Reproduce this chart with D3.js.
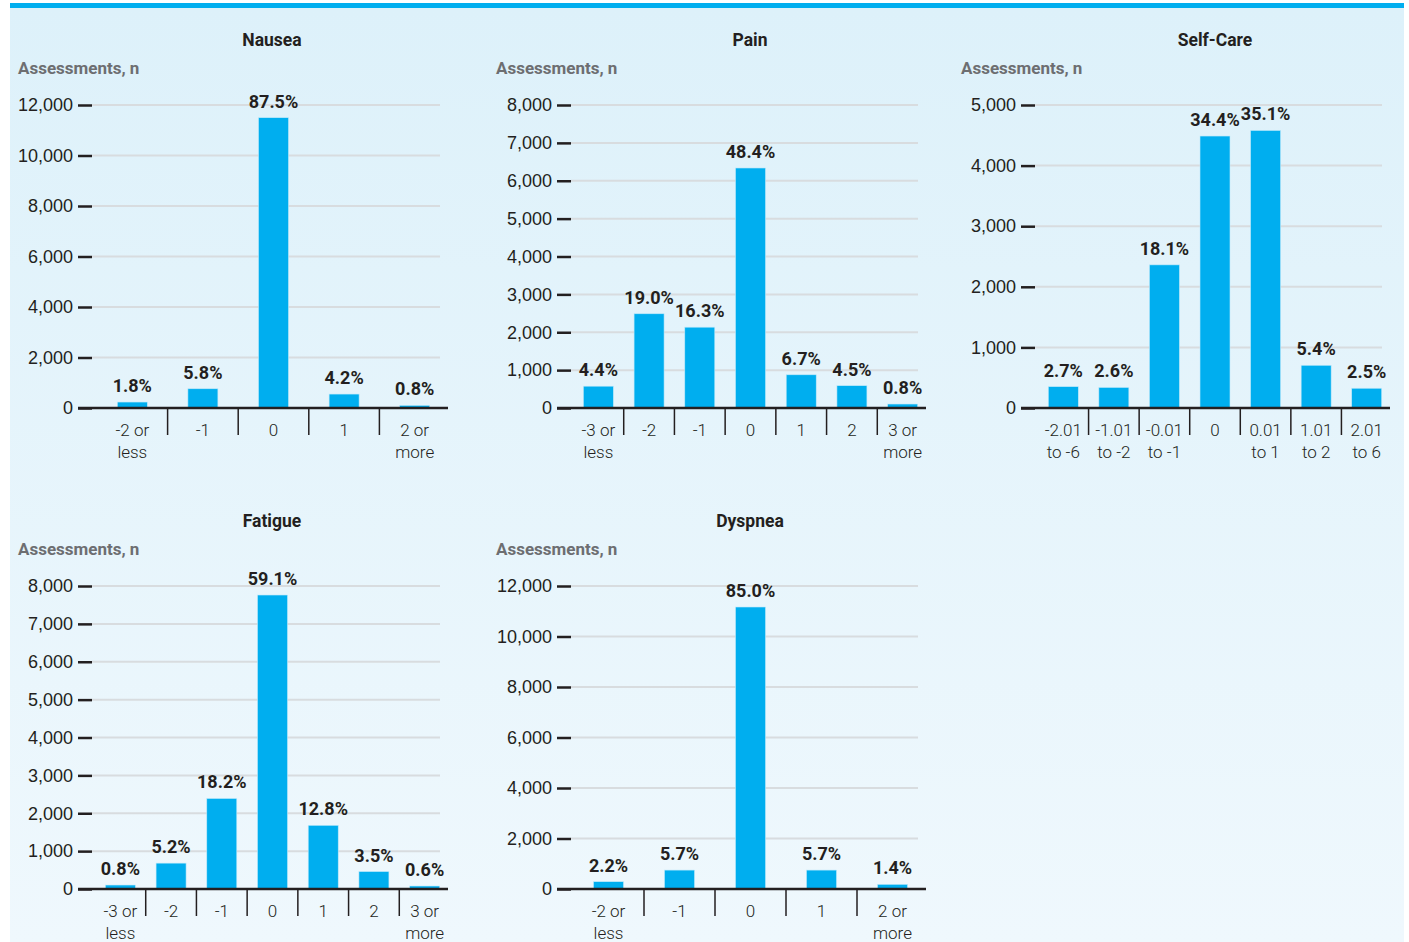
<!DOCTYPE html>
<html lang="en">
<head>
<meta charset="UTF-8">
<title>Symptom change assessments</title>
<script src="https://d3js.org/d3.v7.min.js"></script>
<style>
  body { margin: 0; background: #fff; }
  svg { display: block; font-family: Roboto, "Noto Sans", sans-serif; }
  .title { font-size: 17.5px; font-weight: 700; fill: #231f20; }
  .ylab { font-size: 17px; font-weight: 700; fill: #6d6e71; }
  .tick text { font-size: 18px; font-weight: 300; fill: #231f20; }
  .cat { font-size: 17px; font-weight: 300; fill: #231f20; }
  .pct { font-size: 18px; font-weight: 700; fill: #231f20; }
  .bar { fill: #00aeef; }
</style>
</head>
<body>
<svg id="chart" width="1409" height="942"></svg>
<script>
// categories
const nauseaCats = ["-2 or\nless", "-1", "0", "1", "2 or\nmore"];
const painCats = ["-3 or\nless", "-2", "-1", "0", "1", "2", "3 or\nmore"];
const selfCareCats = ["-2.01\nto -6", "-1.01\nto -2", "-0.01\nto -1", "0", "0.01\nto 1", "1.01\nto 2", "2.01\nto 6"];
const fatigueCats = ["-3 or\nless", "-2", "-1", "0", "1", "2", "3 or\nmore"];
const dyspneaCats = ["-2 or\nless", "-1", "0", "1", "2 or\nmore"];

// assessment counts
const nauseaValues = [236, 762, 11497, 552, 105];
const painValues = [576, 2488, 2134, 6337, 877, 589, 105];
const selfCareValues = [352, 339, 2362, 4488, 4580, 705, 326];
const fatigueValues = [105, 683, 2390, 7762, 1681, 460, 79];
const dyspneaValues = [289, 749, 11168, 749, 184];

// percentage labels
const nauseaPct = ["1.8%", "5.8%", "87.5%", "4.2%", "0.8%"];
const painPct = ["4.4%", "19.0%", "16.3%", "48.4%", "6.7%", "4.5%", "0.8%"];
const selfCarePct = ["2.7%", "2.6%", "18.1%", "34.4%", "35.1%", "5.4%", "2.5%"];
const fatiguePct = ["0.8%", "5.2%", "18.2%", "59.1%", "12.8%", "3.5%", "0.6%"];
const dyspneaPct = ["2.2%", "5.7%", "85.0%", "5.7%", "1.4%"];

// y axis maxima and tick steps
const yMax = { nausea: 12000, pain: 8000, selfCare: 5000, fatigue: 8000, dyspnea: 12000 };
const yStep = { nausea: 2000, pain: 1000, selfCare: 1000, fatigue: 1000, dyspnea: 2000 };

const svg = d3.select("#chart");

// background
const defs = svg.append("defs");
const grad = defs.append("linearGradient").attr("id", "bg")
    .attr("x1", 0).attr("y1", 0).attr("x2", 0).attr("y2", 1);
grad.append("stop").attr("offset", "0%").attr("stop-color", "#ddf1fa");
grad.append("stop").attr("offset", "100%").attr("stop-color", "#eff8fd");
svg.append("rect").attr("x", 10).attr("y", 8).attr("width", 1394).attr("height", 934).attr("fill", "url(#bg)");
svg.append("rect").attr("x", 10).attr("y", 3).attr("width", 1394).attr("height", 5).attr("fill", "#00aeef");

const panels = [
    { title: "Nausea", cats: nauseaCats, values: nauseaValues, pct: nauseaPct, max: yMax.nausea, step: yStep.nausea, left: 18, axisX: 78, x0: 97, x1: 450, top: 105, bottom: 408, titleX: 272 },
    { title: "Pain", cats: painCats, values: painValues, pct: painPct, max: yMax.pain, step: yStep.pain, left: 496, axisX: 557, x0: 573, x1: 928, top: 105, bottom: 408, titleX: 750 },
    { title: "Self-Care", cats: selfCareCats, values: selfCareValues, pct: selfCarePct, max: yMax.selfCare, step: yStep.selfCare, left: 961, axisX: 1021, x0: 1038, x1: 1392, top: 105, bottom: 408, titleX: 1215 },
    { title: "Fatigue", cats: fatigueCats, values: fatigueValues, pct: fatiguePct, max: yMax.fatigue, step: yStep.fatigue, left: 18, axisX: 78, x0: 95, x1: 450, top: 586, bottom: 889, titleX: 272 },
    { title: "Dyspnea", cats: dyspneaCats, values: dyspneaValues, pct: dyspneaPct, max: yMax.dyspnea, step: yStep.dyspnea, left: 496, axisX: 557, x0: 573, x1: 928, top: 586, bottom: 889, titleX: 750 }
];

panels.forEach(p => {
    const g = svg.append("g");
    const bandW = (p.x1 - p.x0) / p.cats.length;
    const x = d3.scaleBand().domain(p.cats).range([p.x0, p.x1]).paddingInner(0).paddingOuter(0);
    const y = d3.scaleLinear().domain([0, p.max]).range([p.bottom, p.top]);
    const ticks = d3.range(0, p.max + 1, p.step);

    g.append("text").attr("class", "title").attr("x", p.titleX).attr("y", p.top - 59)
        .attr("text-anchor", "middle").text(p.title);
    g.append("text").attr("class", "ylab").attr("x", p.left).attr("y", p.top - 31).text("Assessments, n");

    // gridlines
    g.selectAll(".grid").data(ticks.filter(t => t > 0)).enter().append("line")
        .attr("x1", p.axisX + 14).attr("x2", p.x1 - 10)
        .attr("y1", d => y(d)).attr("y2", d => y(d))
        .attr("stroke", "#d8dcdf").attr("stroke-width", 2);

    // y axis
    const yAxis = g.append("g").attr("transform", `translate(${p.axisX + 14},0)`)
        .call(d3.axisLeft(y).tickValues(ticks).tickSize(14).tickPadding(5).tickFormat(d3.format(",")));
    yAxis.select(".domain").remove();
    yAxis.selectAll(".tick line").attr("stroke", "#231f20").attr("stroke-width", 2.5);

    // bars
    g.selectAll(".bar").data(p.cats).enter().append("rect")
        .attr("class", "bar")
        .attr("x", d => x(d) + (bandW - 30) / 2)
        .attr("width", 30)
        .attr("y", (d, i) => y(p.values[i]))
        .attr("height", (d, i) => y(0) - y(p.values[i]))
        .attr("stroke", "#bfe9fa").attr("stroke-width", 0.6);

    // percentage labels
    const labels = g.selectAll(".pct").data(p.cats).enter().append("text")
        .attr("class", "pct")
        .attr("x", d => x(d) + bandW / 2)
        .attr("y", (d, i) => y(p.values[i]) - 10)
        .attr("text-anchor", "middle")
        .text((d, i) => p.pct[i]);

    // push apart neighbouring labels that collide
    const nodes = labels.nodes();
    for (let i = 1; i < nodes.length; i++) {
        const a = nodes[i - 1].getBBox(), b = nodes[i].getBBox();
        const overlapX = a.x + a.width + 1 - b.x;
        const overlapY = Math.min(a.y + a.height, b.y + b.height) - Math.max(a.y, b.y);
        if (overlapX > 0 && overlapY > 0) {
            d3.select(nodes[i - 1]).attr("x", +nodes[i - 1].getAttribute("x") - overlapX / 2);
            d3.select(nodes[i]).attr("x", +nodes[i].getAttribute("x") + overlapX / 2);
        }
    }

    // baseline
    g.append("line").attr("x1", p.axisX).attr("x2", p.x1 - 2)
        .attr("y1", y(0)).attr("y2", y(0))
        .attr("stroke", "#231f20").attr("stroke-width", 2.5);

    // category separators
    g.selectAll(".sep").data(p.cats.slice(1)).enter().append("line")
        .attr("x1", d => x(d)).attr("x2", d => x(d))
        .attr("y1", y(0)).attr("y2", y(0) + 27)
        .attr("stroke", "#231f20").attr("stroke-width", 1.5);

    // category labels
    p.cats.forEach(c => {
        const t = g.append("text").attr("class", "cat")
            .attr("x", x(c) + bandW / 2).attr("y", y(0) + 28)
            .attr("text-anchor", "middle");
        c.split("\n").forEach((line, i) => {
            t.append("tspan").attr("x", x(c) + bandW / 2).attr("dy", i === 0 ? 0 : 22).text(line);
        });
    });
});
</script>
</body>
</html>
